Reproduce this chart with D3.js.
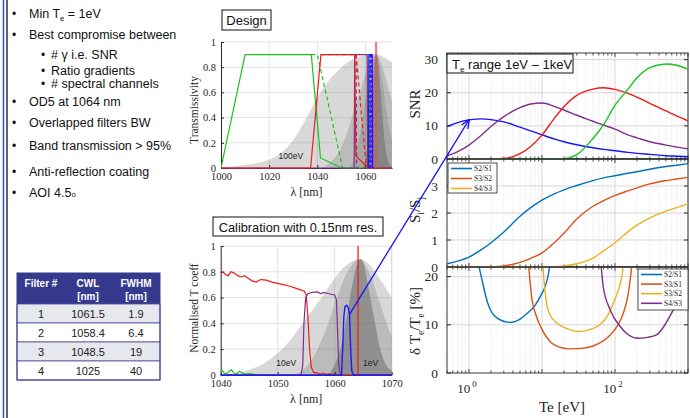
<!DOCTYPE html>
<html lang="en">
<head>
<meta charset="UTF-8">
<title>Filter design and Te sensitivity</title>
<script src="https://d3js.org/d3.v7.min.js"></script>
<style>
  body { margin: 0; background: #fff; }
  svg { display: block; }
  .sans { font-family: "Liberation Sans", Arial, sans-serif; }
  .serif { font-family: "Liberation Serif", "Times New Roman", serif; }
</style>
</head>
<body>
<div id="chart"></div>
<script>
// ---------------- data ----------------
const bulletText = ["Min T_e = 1eV", "Best compromise between", "# \u03b3 i.e. SNR", "Ratio gradients",
  "# spectral channels", "OD5 at 1064 nm", "Overlapped filters BW", "Band transmission > 95%",
  "Anti-reflection coating", "AOI 4.5^o"];
const bulletLevel = [0, 0, 1, 1, 1, 0, 0, 0, 0, 0];

const tableHead = [["Filter #", ""], ["CWL", "[nm]"], ["FWHM", "[nm]"]];
const filterNo = ["1", "2", "3", "4"];
const filterCWL = ["1061.5", "1058.4", "1048.5", "1025"];
const filterFWHM = ["1.9", "6.4", "19", "40"];

// Thomson spectra (wavelength nm, normalised)
const spec100eV = [[1000,0],[1005,0.01],[1010,0.025],[1015,0.04],[1020,0.065],[1025,0.12],[1030,0.22],[1035,0.38],[1040,0.56],[1045,0.7],[1050,0.8],[1055,0.865],[1060,0.895],[1063.5,0.905],[1066,0.895],[1068,0.875],[1071,0.84]];
const spec10eV = [[1040,0],[1042,0.005],[1045,0.04],[1048,0.1],[1050,0.17],[1052,0.26],[1055,0.44],[1058,0.62],[1060,0.75],[1062,0.85],[1064.4,0.9],[1066,0.86],[1068,0.74],[1070,0.6],[1071,0.53]];
const spec3eV = [[1053,0],[1056,0.12],[1058,0.3],[1060,0.55],[1062,0.78],[1064.4,0.9],[1066,0.8],[1068,0.55],[1070,0.3],[1071,0.22]];
const spec1eV = [[1059,0],[1060,0.08],[1061,0.2],[1062,0.42],[1063,0.68],[1064,0.87],[1064.5,0.9],[1065,0.87],[1066,0.66],[1067,0.42],[1068,0.2],[1069,0.08],[1070,0.03],[1071,0.01]];

// Design filter transmissivity
const designGreen = [[1000,0],[1010,0.9],[1037.5,0.9],[1041.3,0.08],[1050.2,0],[1071,0]];
const designGreenDash = [[1037.5,0.9],[1040,0.9],[1050.5,0]];
const designRed = [[1000,0],[1037.2,0],[1041.5,0.9],[1055.5,0.9],[1056,0.095],[1060.7,0.01],[1060.9,0],[1071,0]];
const designRedDash = [[1041.5,0.9],[1056.1,0.9],[1060.3,0.01]];
const designPurple = [[1000,0],[1055.3,0],[1055.5,0.9],[1060.7,0.9],[1060.9,0],[1071,0]];
const designPurpleDash = [[1056.1,0.9],[1056.3,0],[1061.9,0],[1062,0.9],[1062.1,0]];
const designBlue = [[1061.2,0],[1061.4,0.9],[1062.8,0.9],[1063,0]];
const designBlueDash = [[1061.8,0],[1061.9,0.9],[1062.5,0.9],[1062.6,0]];
const designLaser = 1064.4;

// Calibration measurements (0.15 nm resolution)
const calRed = [[1040,0.79],[1040.4,0.8],[1040.8,0.78],[1041.3,0.77],[1041.8,0.8],[1042.4,0.79],[1043,0.77],[1043.6,0.76],[1044.2,0.77],[1044.8,0.75],[1045.5,0.73],[1046.2,0.72],[1047,0.74],[1048,0.735],[1049,0.72],[1050,0.71],[1051,0.7],[1052,0.69],[1053,0.675],[1054,0.66],[1054.7,0.65],[1055,0.62],[1055.3,0.45],[1055.6,0.2],[1055.9,0.06],[1056.3,0.02],[1057,0.015],[1057.5,0.005],[1058,0.015],[1058.5,0.005],[1059,0.01],[1059.6,0],[1070,0]];
const calPurple = [[1040,0],[1054.1,0],[1054.4,0.08],[1054.6,0.4],[1054.9,0.6],[1055.3,0.63],[1056,0.64],[1057,0.645],[1057.5,0.63],[1058,0.64],[1059,0.63],[1060,0.62],[1060.3,0.58],[1060.5,0.35],[1060.7,0.08],[1061,0],[1070,0]];
const calBlue = [[1040,0],[1061.2,0],[1061.4,0.2],[1061.6,0.45],[1061.8,0.53],[1062.1,0.54],[1062.4,0.52],[1062.6,0.47],[1062.8,0.2],[1063,0.03],[1063.3,0],[1070,0]];
const calGreen = [[1040,0.02],[1040.3,0.035],[1040.6,0.015],[1041,0.01],[1041.5,0.03],[1041.9,0.04],[1042.3,0.015],[1042.8,0.01],[1043.3,0.03],[1043.7,0.02],[1044.3,0.005],[1045,0.01],[1046,0.003],[1047,0]];
const calLaser = 1064.1;
const calArrowFrom = [1062.6, 0.47];

// Te grid [eV]
const te = [0.5,0.7,1,1.5,2,3,5,7,10,15,20,30,50,70,100,150,200,300,500,700,1000];
const snrS1 = [9.8,11.0,11.8,12.1,11.9,11.2,9.6,8.5,7.3,6.0,5.2,4.3,3.4,2.9,2.5,2.0,1.7,1.4,1.0,0.85,0.7];
const snrS2 = [0.9,2.2,4.2,7.3,9.8,12.8,15.5,16.6,16.9,15.8,14.8,13.2,11.4,10.2,9.0,7.3,6.4,5.2,4.2,3.6,3.1];
const snrS3 = [0,0,0,0,0,0.15,1.6,3.8,7.2,12.5,15.8,19.2,21.1,21.5,21.0,19.8,18.7,16.8,14.5,13.0,11.5];
const snrS4 = [0,0,0,0,0,0,0,0,0,0,0.1,1.3,6.2,10.4,16.2,21.0,24.5,27.6,28.7,28.3,27.1];

const ratioS2S1 = [0.12,0.22,0.37,0.65,0.9,1.3,1.88,2.2,2.48,2.72,2.86,3.02,3.2,3.3,3.38,3.47,3.53,3.62,3.72,3.77,3.83];
const ratioS3S2 = [0,0,0,0.005,0.01,0.04,0.17,0.32,0.52,0.92,1.25,1.78,2.25,2.46,2.65,2.82,2.93,3.08,3.2,3.26,3.32];
const ratioS4S3 = [0,0,0,0,0,0,0,0,0,0.01,0.04,0.12,0.33,0.6,0.9,1.3,1.55,1.82,2.07,2.2,2.34];

// relative Te error [%] (Te, value)
const errS2S1 = [[1.33,23],[1.5,19.5],[1.78,14.8],[2.44,11.4],[3.7,10.5],[5,11.2],[6.3,12.4],[8,14],[9.5,15.9],[12.3,20.7],[13,23]];
const errS3S1 = [[6.5,23],[7.3,15.2],[8.3,12],[9.5,9.7],[13,6.5],[18,5.3],[24,5.0],[35,5.1],[50,5.6],[86,7.9],[110,10],[130,12.4],[150,16],[165,20.5],[172,23]];
const errS3S2 = [[10.2,23],[11,17],[11.7,14],[13,12],[16,10.4],[22,9.2],[31.6,8.6],[45,9.0],[62,10],[80,12],[95,14.5],[110,17],[124,20],[132,23]];
const errS4S3 = [[64,23],[69,17.9],[86,13.1],[117,9.7],[150,8],[209,7.2],[280,7.4],[370,7.9],[460,9.5],[560,11.7],[700,14.5],[850,17.5],[1000,21]];

const ratioLabels = ["S2/S1", "S3/S2", "S4/S3"];
const errLabels = ["S2/S1", "S3/S1", "S3/S2", "S4/S3"];

// ---------------- drawing ----------------
const W = 690, H = 418;
const svg = d3.select("#chart").append("svg").attr("width", W).attr("height", H);
const defs = svg.append("defs");
const axisCol = "#262626";

function clip(id, x0, y0, x1, y1) {
  defs.append("clipPath").attr("id", id).append("rect")
    .attr("x", x0).attr("y", y0).attr("width", x1 - x0).attr("height", y1 - y0);
  return `url(#${id})`;
}

// writes "T_e" / "4.5^o" style text
function richText(sel, str, size) {
  const re = /([_^])(.)/g;
  let last = 0, m, shift = 0;
  while ((m = re.exec(str)) !== null) {
    if (m.index > last) sel.append("tspan").attr("dy", -shift).text(str.slice(last, m.index)), shift = 0;
    const s = m[1] === "_" ? size * 0.25 : 0;
    sel.append("tspan").attr("dy", s - shift).attr("font-size", size * 0.62).text(m[2]);
    shift = s;
    last = re.lastIndex;
  }
  if (last < str.length) sel.append("tspan").attr("dy", -shift).text(str.slice(last));
}

// left border
svg.append("line").attr("x1", 3.5).attr("x2", 3.5).attr("y1", 0).attr("y2", H).attr("stroke", "#2f55c9").attr("stroke-width", 1.5);
svg.append("line").attr("x1", 7).attr("x2", 7).attr("y1", 0).attr("y2", H).attr("stroke", "#111").attr("stroke-width", 1.3);

// bullets
const bulletBase = [18, 39, 59, 74.5, 87.5, 106, 127, 150, 176, 197];
bulletText.forEach((t, i) => {
  const lvl = bulletLevel[i];
  svg.append("text").attr("class", "sans").attr("x", lvl ? 41 : 12).attr("y", bulletBase[i])
    .attr("font-size", 12).attr("fill", "#111").text("\u2022");
  const tx = svg.append("text").attr("class", "sans").attr("x", lvl ? 51 : 29).attr("y", bulletBase[i])
    .attr("font-size", 12.5).attr("fill", "#111");
  richText(tx, t, 12.5);
});

// table
const tX = [17, 65, 111, 160], tHeadY = 273, tHeadH = 31, tRowH = 19;
const tcx = [41, 88, 136];
const tbl = svg.append("g").attr("class", "sans");
tbl.append("rect").attr("x", tX[0]).attr("y", tHeadY).attr("width", tX[3] - tX[0]).attr("height", tHeadH).attr("fill", "#363a8e");
tableHead.forEach((h, j) => {
  tbl.append("text").attr("x", tcx[j]).attr("y", tHeadY + 14).attr("text-anchor", "middle")
    .attr("font-size", 10).attr("font-weight", "bold").attr("fill", "#fff").text(h[0]);
  if (h[1]) tbl.append("text").attr("x", tcx[j]).attr("y", tHeadY + 27).attr("text-anchor", "middle")
    .attr("font-size", 10).attr("font-weight", "bold").attr("fill", "#fff").text(h[1]);
});
filterNo.forEach((n, i) => {
  const y0 = tHeadY + tHeadH + i * tRowH;
  tbl.append("rect").attr("x", tX[0]).attr("y", y0).attr("width", tX[3] - tX[0]).attr("height", tRowH)
    .attr("fill", i % 2 === 0 ? "#e7e7ee" : "#fff").attr("stroke", "#4a4e96").attr("stroke-width", 0.8);
  [n, filterCWL[i], filterFWHM[i]].forEach((v, j) => {
    tbl.append("text").attr("x", tcx[j]).attr("y", y0 + 13.5).attr("text-anchor", "middle")
      .attr("font-size", 11).attr("fill", "#222").text(v);
  });
});
tbl.append("rect").attr("x", tX[0]).attr("y", tHeadY).attr("width", tX[3] - tX[0]).attr("height", tHeadH + 4 * tRowH)
  .attr("fill", "none").attr("stroke", "#363a8e").attr("stroke-width", 1);

// ---- generic small spectral plot ----
function specPlot(o) {
  const x = d3.scaleLinear().domain(o.xd).range(o.xr);
  const y = d3.scaleLinear().domain([0, 1]).range(o.yr);
  const g = svg.append("g");
  // grid
  g.selectAll(null).data(o.xticks.slice(1)).enter().append("line")
    .attr("x1", d => x(d)).attr("x2", d => x(d)).attr("y1", y(0)).attr("y2", y(1))
    .attr("stroke", "#e3e3e3").attr("stroke-width", 1);
  g.selectAll(null).data([0.2, 0.4, 0.6, 0.8, 1]).enter().append("line")
    .attr("x1", o.xr[0]).attr("x2", o.xr[1]).attr("y1", d => y(d)).attr("y2", d => y(d))
    .attr("stroke", "#e3e3e3").attr("stroke-width", 1);
  if (o.box) g.append("line").attr("x1", o.xr[1]).attr("x2", o.xr[1]).attr("y1", y(0)).attr("y2", y(1)).attr("stroke", "#d8d8d8");
  const cp = clip(o.id, o.xr[0], o.yr[1] - 2, o.xr[1], o.yr[0] + 2);
  const area = d3.area().x(d => x(d[0])).y0(y(0)).y1(d => y(d[1])).curve(d3.curveMonotoneX);
  const fg = g.append("g").attr("clip-path", cp);
  o.spectra.forEach(s => fg.append("path").datum(s.d).attr("d", area).attr("fill", s.c).attr("fill-opacity", s.a));
  // axes
  const ax = g.append("g").attr("class", "serif").attr("transform", `translate(0,${o.yr[0]})`)
    .call(d3.axisBottom(x).tickValues(o.xticks).tickFormat(d3.format("d")).tickSizeInner(-3).tickSizeOuter(0).tickPadding(5));
  const ay = g.append("g").attr("class", "serif").attr("transform", `translate(${o.xr[0]},0)`)
    .call(d3.axisLeft(y).tickValues([0, 0.2, 0.4, 0.6, 0.8, 1]).tickFormat(d3.format("~g")).tickSizeInner(-3).tickSizeOuter(0).tickPadding(5));
  [ax, ay].forEach(a => {
    a.select(".domain").attr("stroke", axisCol);
    a.selectAll("line").attr("stroke", axisCol);
    a.selectAll("text").attr("font-size", 10.5).attr("fill", axisCol).attr("font-family", "Liberation Serif, serif");
  });
  // curves
  const line = d3.line().x(d => x(d[0])).y(d => y(d[1]));
  const lg = g.append("g").attr("clip-path", cp);
  o.curves.forEach(c => lg.append("path").datum(c.d).attr("d", line).attr("fill", "none")
    .attr("stroke", c.c).attr("stroke-width", c.w || 1.2).attr("stroke-dasharray", c.dash || null));
  lg.append("line").attr("x1", x(o.laser)).attr("x2", x(o.laser)).attr("y1", y(0)).attr("y2", y(1))
    .attr("stroke", o.laserCol).attr("stroke-width", o.laserW);
  // labels
  g.append("text").attr("class", "serif").attr("x", (o.xr[0] + o.xr[1]) / 2).attr("y", o.yr[0] + 28)
    .attr("text-anchor", "middle").attr("font-size", 12).attr("fill", axisCol).text("\u03bb [nm]");
  g.append("text").attr("class", "serif").attr("transform", `translate(198,${o.ylabY}) rotate(-90)`)
    .attr("text-anchor", "middle").attr("font-size", 11.5).attr("fill", axisCol).text(o.ylab);
  o.notes.forEach(n => g.append("text").attr("class", "sans").attr("x", x(n[0])).attr("y", y(n[1]))
    .attr("text-anchor", "middle").attr("font-size", 8.5).attr("fill", "#222").text(n[2]));
  return { x, y };
}

const gray = "#6e6e6e";
specPlot({
  id: "cDesign", xd: [1000, 1071], xr: [221, 392], yr: [168, 42], xticks: [1000, 1020, 1040, 1060],
  spectra: [{ d: spec100eV, c: gray, a: 0.27 }, { d: spec10eV, c: gray, a: 0.27 }, { d: spec3eV, c: gray, a: 0.27 }, { d: spec1eV, c: "#555", a: 0.4 }],
  curves: [
    { d: designGreen, c: "#19c419" }, { d: designGreenDash, c: "#19c419", dash: "4,3" },
    { d: designPurple, c: "#7e2f8e" }, { d: designPurpleDash, c: "#7e2f8e", dash: "4,3" },
    { d: designRed, c: "#ee1c1c" }, { d: designRedDash, c: "#ee1c1c", dash: "4,3" },
    { d: designBlue, c: "#1a1aff" }, { d: designBlueDash, c: "#1a1aff", dash: "3,2" }
  ],
  laser: designLaser, laserCol: "rgba(235,80,80,0.75)", laserW: 2.2,
  ylab: "Transmissivity", ylabY: 110, notes: [[1029, 0.07, "100eV"]]
});
const cal = specPlot({
  id: "cCal", xd: [1040, 1070], xr: [220.7, 391.7], yr: [375, 246], xticks: [1040, 1050, 1060, 1070], box: true,
  spectra: [{ d: spec10eV, c: gray, a: 0.27 }, { d: spec3eV, c: gray, a: 0.27 }, { d: spec1eV, c: "#555", a: 0.42 }],
  curves: [
    { d: calGreen, c: "#19c419" }, { d: calRed, c: "#ee1c1c" }, { d: calPurple, c: "#7e2f8e" }, { d: calBlue, c: "#1a1aff", w: 1.4 }
  ],
  laser: calLaser, laserCol: "#e52222", laserW: 1.3,
  ylab: "Normalised T coeff", ylabY: 308, notes: [[1051.5, 0.07, "10eV"], [1066.3, 0.07, "1eV"]]
});

// title boxes
function labelBox(x0, y0, w, h, size) {
  svg.append("rect").attr("x", x0).attr("y", y0).attr("width", w).attr("height", h)
    .attr("fill", "#fff").attr("stroke", "#111").attr("stroke-width", 1);
  return svg.append("text").attr("class", "sans").attr("font-size", size).attr("fill", "#111");
}
labelBox(222, 10, 49, 20, 13).attr("x", 246.5).attr("y", 25).attr("text-anchor", "middle").text("Design");
labelBox(213, 217, 170, 19, 12.8).attr("x", 298).attr("y", 231.5).attr("text-anchor", "middle").text("Calibration with 0.15nm res.");

// ---- right: Te panels ----
const tx = d3.scaleLog().domain([0.5, 1000]).range([447, 688]);
const pSNR = d3.scaleLinear().domain([0, 32]).range([159, 53]);
const pRat = d3.scaleLinear().domain([0, 4]).range([267, 159]);
const pErr = d3.scaleLinear().domain([0, 22]).range([373, 267]);
const panels = [
  { y: pSNR, ticks: [0, 10, 20, 30], id: "cSNR" },
  { y: pRat, ticks: [0, 1, 2, 3], id: "cRat" },
  { y: pErr, ticks: [0, 10, 20], id: "cErr" }
];
const minorTe = tx.ticks();
const isMajor = v => Math.abs(Math.log10(v) - Math.round(Math.log10(v))) < 1e-6;

panels.forEach(p => {
  const [yb, yt] = p.y.range();
  const g = svg.append("g");
  g.append("rect").attr("x", 447).attr("y", yt).attr("width", 241).attr("height", yb - yt).attr("fill", "#fff");
  g.selectAll(null).data(minorTe).enter().append("line")
    .attr("x1", d => tx(d)).attr("x2", d => tx(d)).attr("y1", yt).attr("y2", yb)
    .attr("stroke", d => isMajor(d) ? "#d6d6d6" : "#e2e2e2")
    .attr("stroke-dasharray", d => isMajor(d) ? null : "1,1.5");
  g.selectAll(null).data(p.ticks.filter(t => t > 0)).enter().append("line")
    .attr("x1", 447).attr("x2", 688).attr("y1", d => p.y(d)).attr("y2", d => p.y(d)).attr("stroke", "#d6d6d6");
  // ticks
  [yt, yb].forEach((yy, k) => g.selectAll(null).data(minorTe).enter().append("line")
    .attr("x1", d => tx(d)).attr("x2", d => tx(d)).attr("y1", yy)
    .attr("y2", d => yy + (k ? -1 : 1) * (isMajor(d) ? 4 : 2.5)).attr("stroke", axisCol).attr("stroke-width", 0.8));
  g.selectAll(null).data(p.ticks).enter().append("line")
    .attr("x1", 447).attr("x2", 451).attr("y1", d => p.y(d)).attr("y2", d => p.y(d)).attr("stroke", axisCol);
  g.selectAll(null).data(p.ticks).enter().append("line")
    .attr("x1", 684).attr("x2", 688).attr("y1", d => p.y(d)).attr("y2", d => p.y(d)).attr("stroke", axisCol);
  g.selectAll(null).data(p.ticks).enter().append("text").attr("class", "serif")
    .attr("x", 438).attr("y", d => p.y(d) + 4.5).attr("text-anchor", "end")
    .attr("font-size", 13.5).attr("fill", axisCol).text(d => d);
  g.append("rect").attr("x", 447).attr("y", yt).attr("width", 241).attr("height", yb - yt)
    .attr("fill", "none").attr("stroke", axisCol).attr("stroke-width", 0.9);
  p.clip = clip(p.id, 447, yt, 688, yb);
});

function teLine(sel, yS, pts, col, w) {
  sel.append("path").datum(pts).attr("fill", "none").attr("stroke", col).attr("stroke-width", w || 1.4)
    .attr("d", d3.line().x(d => tx(d[0])).y(d => yS(d[1])).curve(d3.curveMonotoneX));
}
const zip = vals => te.map((t, i) => [t, vals[i]]);

const gS = svg.append("g").attr("clip-path", panels[0].clip);
[[snrS1, "#1414f5"], [snrS2, "#7e2f8e"], [snrS3, "#f01818"], [snrS4, "#19c419"]]
  .forEach(s => teLine(gS, pSNR, zip(s[0]), s[1]));

const matlab = ["#0072bd", "#d95319", "#edb120", "#7e2f8e"];
const gR = svg.append("g").attr("clip-path", panels[1].clip);
[ratioS2S1, ratioS3S2, ratioS4S3].forEach((s, i) => teLine(gR, pRat, zip(s), matlab[i]));

const gE = svg.append("g").attr("clip-path", panels[2].clip);
[errS2S1, errS3S1, errS3S2, errS4S3].forEach((s, i) => teLine(gE, pErr, s, matlab[i]));

// panel separators
[159, 267].forEach(yy => svg.append("line").attr("x1", 447).attr("x2", 688).attr("y1", yy).attr("y2", yy)
  .attr("stroke", "#333").attr("stroke-width", 1.6));

// legends
function legend(x0, y0, w, h, labels, step) {
  const g = svg.append("g");
  g.append("rect").attr("x", x0).attr("y", y0).attr("width", w).attr("height", h)
    .attr("fill", "#fff").attr("stroke", "#222").attr("stroke-width", 0.8);
  labels.forEach((l, i) => {
    const yy = y0 + 5.5 + i * step;
    g.append("line").attr("x1", x0 + 3).attr("x2", x0 + 24).attr("y1", yy).attr("y2", yy)
      .attr("stroke", matlab[i]).attr("stroke-width", 1.6);
    g.append("text").attr("class", "serif").attr("x", x0 + 26).attr("y", yy + 2.5)
      .attr("font-size", 7.5).attr("fill", "#222").text(l);
  });
}
legend(448, 163, 49, 30, ratioLabels, 10);
legend(638, 269, 50, 41, errLabels, 9.6);

// Te range box
const tb = labelBox(447, 54, 126, 19, 13).attr("x", 452).attr("y", 68.5);
richText(tb, "T_e range 1eV \u2013 1keV", 13);

// axis labels on the right
svg.append("text").attr("class", "serif").attr("transform", "translate(420,104) rotate(-90)")
  .attr("text-anchor", "middle").attr("font-size", 15).attr("fill", axisCol).text("SNR");
const rl = svg.append("text").attr("class", "serif").attr("transform", "translate(420,210) rotate(-90)")
  .attr("text-anchor", "middle").attr("font-size", 15).attr("fill", axisCol);
richText(rl, "S_i/S_j", 15);
const el = svg.append("text").attr("class", "serif").attr("transform", "translate(420,321) rotate(-90)")
  .attr("text-anchor", "middle").attr("font-size", 15).attr("fill", axisCol);
richText(el, "\u03b4 T_e/T_e [%]", 15);

[1, 100].forEach(v => {
  const t = svg.append("text").attr("class", "serif").attr("x", tx(v) - 2).attr("y", 393)
    .attr("text-anchor", "middle").attr("font-size", 13).attr("fill", axisCol);
  t.append("tspan").text("10");
  t.append("tspan").attr("dx", 2).attr("dy", -6).attr("font-size", 9).text(Math.log10(v));
});
svg.append("text").attr("class", "serif").attr("x", 562).attr("y", 412).attr("text-anchor", "middle")
  .attr("font-size", 15).attr("fill", axisCol).text("Te [eV]");

// annotation: calibration filter -> SNR curve at 1 eV
defs.append("marker").attr("id", "arr").attr("viewBox", "0 0 10 10").attr("refX", 9).attr("refY", 5)
  .attr("markerWidth", 7).attr("markerHeight", 7).attr("orient", "auto")
  .append("path").attr("d", "M0,1 L10,5 L0,9").attr("fill", "none").attr("stroke", "#1414f5").attr("stroke-width", 1.5);
svg.append("line")
  .attr("x1", cal.x(calArrowFrom[0])).attr("y1", cal.y(calArrowFrom[1]))
  .attr("x2", tx(1)).attr("y2", pSNR(snrS1[te.indexOf(1)]))
  .attr("stroke", "#1414f5").attr("stroke-width", 1.3).attr("marker-end", "url(#arr)");
</script>
</body>
</html>
